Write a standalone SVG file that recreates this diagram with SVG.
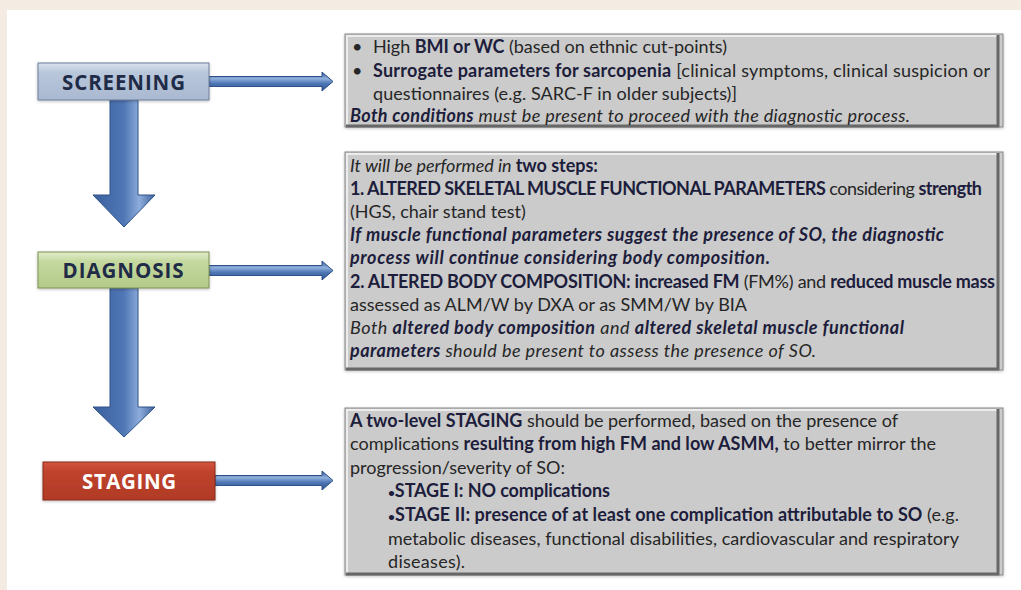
<svg xmlns="http://www.w3.org/2000/svg" width="1021" height="590" viewBox="0 0 1021 590">
<style>
.t{font-family:Lato,"Liberation Sans",sans-serif;font-size:18px;fill:#262626}
.b{font-weight:bold;fill:#1d1d3c}
.i{font-style:italic}
.lab{font-family:"Open Sans","Liberation Sans",sans-serif;font-weight:bold;font-size:20.5px;text-anchor:middle}
.box{fill:#cbcbcb;stroke:#8a8a8a;stroke-width:1}
.hl{fill:none;stroke:#ececec;stroke-width:2}
.dk{fill:none;stroke:#676767;stroke-width:3}
</style>
<defs>
<linearGradient id="vg" x1="0" y1="0" x2="1" y2="0">
<stop offset="0" stop-color="#3a609c"/><stop offset="0.5" stop-color="#5077b6"/><stop offset="0.75" stop-color="#8cacdb"/><stop offset="1" stop-color="#3d619c"/>
</linearGradient>
<linearGradient id="hg" x1="0" y1="0" x2="0" y2="1">
<stop offset="0" stop-color="#2f5490"/><stop offset="0.35" stop-color="#8fb0dc"/><stop offset="0.6" stop-color="#4f77b5"/><stop offset="1" stop-color="#2f5490"/>
</linearGradient>
<linearGradient id="gs" x1="0" y1="0" x2="0" y2="1">
<stop offset="0" stop-color="#d9e2ee"/><stop offset="0.25" stop-color="#b9c7db"/><stop offset="1" stop-color="#a9b9d1"/>
</linearGradient>
<linearGradient id="gd" x1="0" y1="0" x2="0" y2="1">
<stop offset="0" stop-color="#e2edcb"/><stop offset="0.25" stop-color="#c5d9a0"/><stop offset="1" stop-color="#b3ca88"/>
</linearGradient>
<linearGradient id="gr" x1="0" y1="0" x2="0" y2="1">
<stop offset="0" stop-color="#d4553f"/><stop offset="0.25" stop-color="#c0432d"/><stop offset="1" stop-color="#b03a26"/>
</linearGradient>
<filter id="sh" x="-5%" y="-5%" width="110%" height="115%">
<feDropShadow dx="0" dy="1" stdDeviation="1.5" flood-color="#000" flood-opacity="0.25"/>
</filter>
</defs>
<rect x="0" y="0" width="1021" height="590" fill="#f4ece2"/>
<rect x="7" y="10" width="1014" height="580" fill="#ffffff"/>

<g id="connectors" stroke="#2e5189" stroke-width="1">
<path d="M110,100 H138 V195 H155 L124,227 L93,195 H110 Z" fill="url(#vg)"/>
<path d="M110,288 H138 V407 H155 L124,437 L93,407 H110 Z" fill="url(#vg)"/>
<path d="M209,76.5 H322 V72 L333,81.5 L322,91 V86.5 H209 Z" fill="url(#hg)"/>
<path d="M209,265.5 H322 V261 L333,270.5 L322,280 V275.5 H209 Z" fill="url(#hg)"/>
<path d="M215,475.5 H322 V471 L333,480.5 L322,490 V485.5 H215 Z" fill="url(#hg)"/>
</g>

<g id="screening">
<rect x="38" y="63" width="171" height="37" fill="url(#gs)" stroke="#6d7f99" filter="url(#sh)"/>
<text x="123.5" y="90" class="lab" fill="#1f2b47" textLength="123">SCREENING</text>
</g>
<g id="diagnosis">
<rect x="38" y="252" width="171" height="36" fill="url(#gd)" stroke="#7c9152" filter="url(#sh)"/>
<text x="123" y="277.5" class="lab" fill="#1f2b47" textLength="121">DIAGNOSIS</text>
</g>
<g id="staging">
<rect x="43" y="462" width="172" height="38" fill="url(#gr)" stroke="#842a1b" filter="url(#sh)"/>
<text x="129" y="488.5" class="lab" fill="#ffffff" textLength="94">STAGING</text>
</g>

<g id="screening-box">
<rect x="345" y="34" width="658" height="93" class="box" filter="url(#sh)"/>
<path d="M347,125 V36 H997" class="hl"/>
<path d="M998,35 V126 H346" class="dk"/>
<text class="t" x="352" y="53">•</text>
<text class="t" x="373" y="53" textLength="354">High <tspan class="b">BMI or WC</tspan> (based on ethnic cut-points)</text>
<text class="t" x="352" y="77">•</text>
<text class="t" x="373" y="77" textLength="617"><tspan class="b">Surrogate parameters for sarcopenia</tspan> [clinical symptoms, clinical suspicion or</text>
<text class="t" x="373" y="100" textLength="364">questionnaires (e.g. SARC-F in older subjects)]</text>
<text class="t i" x="350" y="122" textLength="560"><tspan class="b">Both conditions</tspan> must be present to proceed with the diagnostic process.</text>
</g>

<g id="diagnosis-box">
<rect x="345" y="152" width="658" height="218" class="box" filter="url(#sh)"/>
<path d="M347,368 V154 H997" class="hl"/>
<path d="M998,153 V369 H346" class="dk"/>
<text class="t i" x="350" y="172" textLength="248">It will be performed in <tspan class="b" font-style="normal">two steps:</tspan></text>
<text class="t" x="350" y="195" textLength="632"><tspan class="b">1. ALTERED SKELETAL MUSCLE FUNCTIONAL PARAMETERS</tspan> considering <tspan class="b">strength</tspan></text>
<text class="t" x="350" y="218">(HGS, chair stand test)</text>
<text class="t b i" x="350" y="241" textLength="594">If muscle functional parameters suggest the presence of SO, the diagnostic</text>
<text class="t b i" x="350" y="264" textLength="420">process will continue considering body composition.</text>
<text class="t" x="350" y="288" textLength="645"><tspan class="b">2. ALTERED BODY COMPOSITION: increased FM</tspan> (FM%) and <tspan class="b">reduced muscle mass</tspan></text>
<text class="t" x="350" y="311">assessed as ALM/W by DXA or as SMM/W by BIA</text>
<text class="t i" x="350" y="334" textLength="554">Both <tspan class="b">altered body composition</tspan> and <tspan class="b">altered skeletal muscle functional</tspan></text>
<text class="t i" x="350" y="357" textLength="466"><tspan class="b">parameters</tspan> should be present to assess the presence of SO.</text>
</g>

<g id="staging-box">
<rect x="345" y="408" width="658" height="167" class="box" filter="url(#sh)"/>
<path d="M347,573 V410 H997" class="hl"/>
<path d="M998,409 V574 H346" class="dk"/>
<text class="t" x="350" y="427" textLength="548"><tspan class="b">A two-level STAGING</tspan> should be performed, based on the presence of</text>
<text class="t" x="350" y="450" textLength="586">complications <tspan class="b">resulting from high FM and low ASMM,</tspan> to better mirror the</text>
<text class="t" x="350" y="474" textLength="215">progression/severity of SO:</text>
<text class="t b" x="388" y="497" textLength="222"><tspan font-size="12px">•</tspan>STAGE I: NO complications</text>
<text class="t" x="388" y="521" textLength="571"><tspan class="b"><tspan font-size="12px">•</tspan>STAGE II: presence of at least one complication attributable to SO</tspan> (e.g.</text>
<text class="t" x="388" y="545" textLength="571">metabolic diseases, functional disabilities, cardiovascular and respiratory</text>
<text class="t" x="388" y="568" textLength="77">diseases).</text>
</g>
</svg>
